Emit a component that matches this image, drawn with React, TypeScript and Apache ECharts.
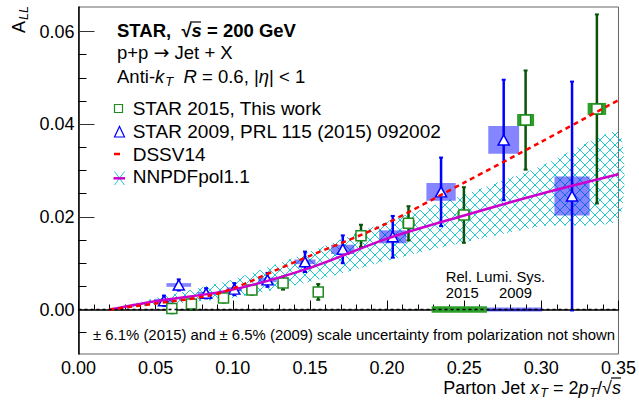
import React, { useEffect, useRef } from 'react';
import * as echarts from 'echarts';

// ---------- data ----------
const xTicks = [0, 0.05, 0.1, 0.15, 0.2, 0.25, 0.3, 0.35];
const yMajorTicks = [0, 0.02, 0.04, 0.06];
const yMinorTicks = [-0.005, 0.005, 0.01, 0.015, 0.025, 0.03, 0.035, 0.045, 0.05, 0.055];

const star2015X = [0.0605, 0.0732, 0.094, 0.1124, 0.1326, 0.1554, 0.1831, 0.2139, 0.2498, 0.2898, 0.336];
const star2015Y = [0.0002, 0.0012, 0.0025, 0.0042, 0.0057, 0.0038, 0.0159, 0.0186, 0.0204, 0.0409, 0.0433];
const star2015Stat = [0.001, 0.0012, 0.001, 0.001, 0.0014, 0.0017, 0.0024, 0.0037, 0.006, 0.0107, 0.0204];
const star2015SysX = [0.0035, 0.0035, 0.0035, 0.0035, 0.0035, 0.0035, 0.004, 0.004, 0.0042, 0.0055, 0.006];
const star2015SysY = [0.0003, 0.0003, 0.0003, 0.0003, 0.0004, 0.0004, 0.0006, 0.0007, 0.0009, 0.0013, 0.0013];

const star2009X = [0.0554, 0.065, 0.0827, 0.101, 0.1225, 0.1468, 0.1713, 0.2037, 0.235, 0.2756, 0.3199];
const star2009Y = [0.0019, 0.0053, 0.0035, 0.0044, 0.0064, 0.0103, 0.013, 0.0157, 0.0254, 0.0366, 0.0245];
const star2009Stat = [0.0011, 0.0012, 0.0011, 0.0013, 0.0015, 0.0022, 0.003, 0.0045, 0.0074, 0.013, 0.0247];
const star2009SysX = [0.0065, 0.008, 0.0055, 0.005, 0.006, 0.0068, 0.0075, 0.0088, 0.0095, 0.01, 0.0114];
const star2009SysY = [0.0004, 0.0004, 0.0003, 0.0004, 0.0005, 0.0005, 0.001, 0.0014, 0.0019, 0.003, 0.0042];

const dssvX = [0.02, 0.05, 0.085, 0.1, 0.128, 0.15, 0.196, 0.25, 0.3, 0.35];
const dssvY = [0, 0.0013, 0.003, 0.0045, 0.0085, 0.0116, 0.018, 0.0274, 0.0362, 0.0452];

const nnpdfX = [0.02, 0.05, 0.1, 0.15, 0.2, 0.25, 0.3, 0.35];
const nnpdfY = [0, 0.0018, 0.0043, 0.009, 0.0153, 0.0203, 0.025, 0.0292];
const nnpdfUpper = [0, 0.0025, 0.0065, 0.0125, 0.019, 0.0248, 0.031, 0.0383];
const nnpdfLower = [0, 0.001, 0.0025, 0.006, 0.0105, 0.0145, 0.018, 0.0193];

const relLumi2015 = [0.2289, 0.2648, 0.00068];
const relLumi2009 = [0.2648, 0.3005, 0.00045];

const F = '"Liberation Sans", Arial, Helvetica, sans-serif';

function makeHatch(): string {
  const c = document.createElement('canvas');
  c.width = 10;
  c.height = 10;
  const ctx = c.getContext('2d')!;
  ctx.strokeStyle = '#22c8d0';
  ctx.lineWidth = 1;
  ctx.beginPath();
  ctx.moveTo(-1, -1);
  ctx.lineTo(11, 11);
  ctx.moveTo(11, -1);
  ctx.lineTo(-1, 11);
  ctx.stroke();
  return c.toDataURL();
}

export default function App() {
  const ref = useRef<HTMLDivElement>(null);
  useEffect(() => {
    if (!ref.current) return;
    const chart = echarts.init(ref.current, null, { renderer: 'svg' });
    const hatch = { image: makeHatch(), repeat: 'repeat', imageWidth: 10, imageHeight: 10 };

    const errRender = (color: string, width: number) => (params: any, api: any) => {
      const x = api.value(0), y = api.value(1), e = api.value(2);
      const t = api.coord([x, y + e]);
      const b = api.coord([x, y - e]);
      return {
        type: 'group',
        children: [
          { type: 'line', shape: { x1: t[0], y1: t[1], x2: b[0], y2: b[1] }, style: { stroke: color, lineWidth: width } },
          { type: 'line', shape: { x1: t[0] - 2, y1: t[1], x2: t[0] + 2, y2: t[1] }, style: { stroke: color, lineWidth: 2 } },
          { type: 'line', shape: { x1: b[0] - 2, y1: b[1], x2: b[0] + 2, y2: b[1] }, style: { stroke: color, lineWidth: 2 } },
        ],
      };
    };
    const boxRender = (fill: string) => (params: any, api: any) => {
      const x = api.value(0), y = api.value(1), sx = api.value(2), sy = api.value(3);
      const p1 = api.coord([x - sx, y + sy]);
      const p2 = api.coord([x + sx, y - sy]);
      return { type: 'rect', shape: { x: p1[0], y: p1[1], width: p2[0] - p1[0], height: p2[1] - p1[1] }, style: { fill } };
    };
    const lumiRender = (fill: string) => (params: any, api: any) => {
      const x0 = api.value(0), x1 = api.value(1), h = api.value(2);
      const p1 = api.coord([x0, h]);
      const p2 = api.coord([x1, -h]);
      return { type: 'rect', shape: { x: p1[0], y: p1[1], width: p2[0] - p1[0], height: p2[1] - p1[1] }, style: { fill } };
    };

    const textStyle = (text: string, x: number, y: number, size: number, extra: any = {}) => ({
      type: 'text',
      x,
      y,
      style: { text, fontSize: size, fontFamily: F, fill: '#000', verticalAlign: 'middle', align: 'left', ...extra },
    });

    const sub = (size: number) => ({ fontSize: size, fontStyle: 'italic', fontFamily: F, padding: [Math.round(size * 0.75), 0, 0, 1] });

    const option: any = {
      animation: false,
      grid: { left: 78.5, top: 7, width: 542.5, height: 347, show: true, borderColor: '#666', borderWidth: 1 },
      xAxis: {
        type: 'value', min: 0, max: 0.35, interval: 0.05,
        axisLine: { lineStyle: { color: '#000', width: 1.5 } },
        axisTick: { inside: true, length: 9, lineStyle: { color: '#000' } },
        minorTick: { show: true, splitNumber: 5, length: 5, lineStyle: { color: '#000' } },
        axisLabel: { formatter: (v: number) => v.toFixed(2), fontSize: 18, color: '#000', fontFamily: F, margin: 5, showMinLabel: true, showMaxLabel: true, customValues: xTicks },
        splitLine: { show: false },
      },
      yAxis: [
        {
          type: 'value', min: -0.0096, max: 0.0653,
          axisLine: { lineStyle: { color: '#000', width: 1.5 } },
          axisTick: { inside: true, length: 16, customValues: yMajorTicks, lineStyle: { color: '#333' } },
          axisLabel: { formatter: (v: number) => v.toFixed(2), fontSize: 18, color: '#000', fontFamily: F, margin: 4, customValues: yMajorTicks },
          splitLine: { show: false },
        },
        {
          type: 'value', min: -0.0096, max: 0.0653, position: 'left',
          axisLine: { show: false },
          axisTick: { inside: true, length: 8, customValues: yMinorTicks, lineStyle: { color: '#000' } },
          axisLabel: { show: false },
          splitLine: { show: false },
        },
        {
          type: 'value', min: -0.0096, max: 0.0653, position: 'left', offset: 59.5,
          axisLine: { show: false }, axisTick: { show: false }, axisLabel: { show: false }, splitLine: { show: false },
          name: '{a|A}{s|LL}', nameLocation: 'end', nameRotate: 90, nameGap: -26,
          nameTextStyle: {
            fontSize: 18, fontFamily: F, color: '#000',
            rich: { a: { fontSize: 18, fontFamily: F, color: '#000' }, s: { ...sub(12.5), color: '#000' } },
          },
        },
      ],
      series: [
        {
          type: 'custom', name: 'band', silent: true,
          data: [[0.1, 0.01]],
          renderItem: (params: any, api: any) => {
            const pts: number[][] = [];
            nnpdfX.forEach((x, i) => pts.push(api.coord([x, nnpdfUpper[i]])));
            for (let i = nnpdfX.length - 1; i >= 0; i--) pts.push(api.coord([nnpdfX[i], nnpdfLower[i]]));
            return { type: 'polygon', shape: { points: pts, smooth: 0.2 }, style: { fill: hatch } };
          },
        },
        {
          type: 'line', name: 'NNPDFpol1.1', data: nnpdfX.map((x, i) => [x, nnpdfY[i]]), smooth: 0.3,
          symbol: 'none', lineStyle: { color: '#cc00cc', width: 2.5 },
        },
        {
          type: 'line', name: 'DSSV14', data: dssvX.map((x, i) => [x, dssvY[i]]), smooth: 0.3,
          symbol: 'none', lineStyle: { color: '#ff0000', width: 2.5, type: [5, 4] },
        },
        {
          type: 'line', name: 'zero', data: [[0, 0], [0.35, 0]], symbol: 'none',
          lineStyle: { color: '#000', width: 1.5, type: [3, 3] },
        },
        { type: 'custom', name: 'lumi2015', z: 3, data: [relLumi2015], renderItem: lumiRender('#2ca02c') },
        { type: 'custom', name: 'lumi2009', z: 3, data: [relLumi2009], renderItem: lumiRender('rgba(0,0,255,0.5)') },
        {
          type: 'custom', name: 'sys2009',
          data: star2009X.map((x, i) => [x, star2009Y[i], star2009SysX[i], star2009SysY[i]]),
          renderItem: boxRender('rgba(0,0,255,0.48)'),
        },
        {
          type: 'custom', name: 'sys2015',
          data: star2015X.map((x, i) => [x, star2015Y[i], star2015SysX[i], star2015SysY[i]]),
          renderItem: boxRender('#2ca02c'),
        },
        {
          type: 'custom', name: 'err2009',
          data: star2009X.map((x, i) => [x, star2009Y[i], star2009Stat[i]]),
          renderItem: errRender('#0000ff', 2.5),
        },
        {
          type: 'custom', name: 'err2015',
          data: star2015X.map((x, i) => [x, star2015Y[i], star2015Stat[i]]),
          renderItem: errRender('#0a520a', 2.5),
        },
        {
          type: 'scatter', name: 'STAR 2009', data: star2009X.map((x, i) => [x, star2009Y[i]]),
          symbol: 'triangle', symbolSize: [11, 10],
          itemStyle: { color: '#fff', borderColor: '#0000ff', borderWidth: 1.5, opacity: 1 },
        },
        {
          type: 'scatter', name: 'STAR 2015', data: star2015X.map((x, i) => [x, star2015Y[i]]),
          symbol: 'rect', symbolSize: 10,
          itemStyle: { color: '#fff', borderColor: '#1f8a1f', borderWidth: 1.5, opacity: 1 },
        },
      ],
      graphic: [
        textStyle('{b|STAR,  √}{bi|s}{b| = 200 GeV}', 117, 30, 18.5, {
          rich: {
            b: { fontSize: 18.5, fontWeight: 'bold', fontFamily: F },
            bi: { fontSize: 18.5, fontWeight: 'bold', fontStyle: 'italic', fontFamily: F },
          },
        }),
        { type: 'line', shape: { x1: 190, y1: 22, x2: 201, y2: 22 }, style: { stroke: '#000', lineWidth: 1.2 } },
        textStyle('{n|p+p }{a|→}{n| Jet + X}', 117, 52, 18.5, {
          rich: {
            n: { fontSize: 18.5, fontFamily: F },
            a: { fontSize: 19, fontFamily: '"DejaVu Sans", sans-serif' },
          },
        }),
        textStyle('{n|Anti-}{i|k}{s|T}{n|  }{i|R}{n| = 0.6, |}{i|η}{n|| < 1}', 117, 76, 18.5, {
          rich: {
            n: { fontSize: 18.5, fontFamily: F },
            i: { fontSize: 18.5, fontStyle: 'italic', fontFamily: F },
            s: sub(13),
          },
        }),
        // legend
        { type: 'rect', shape: { x: 114.5, y: 104.5, width: 8, height: 8 }, style: { fill: '#fff', stroke: '#1f8a1f', lineWidth: 1.2 } },
        textStyle('STAR 2015, This work', 132.7, 108.5, 19),
        { type: 'polygon', shape: { points: [[114.5, 137], [124.5, 137], [119.5, 126.5]] }, style: { fill: '#fff', stroke: '#0000ff', lineWidth: 1.2 } },
        textStyle('STAR 2009, PRL 115 (2015) 092002', 132.7, 131.5, 19),
        { type: 'line', shape: { x1: 114, y1: 154, x2: 120, y2: 154 }, style: { stroke: '#ff0000', lineWidth: 2.5 } },
        textStyle('DSSV14', 132.7, 154, 19),
        { type: 'line', shape: { x1: 114.5, y1: 171.5, x2: 124.5, y2: 185 }, style: { stroke: '#22c8d0', lineWidth: 1 } },
        { type: 'line', shape: { x1: 124.5, y1: 171.5, x2: 114.5, y2: 185 }, style: { stroke: '#22c8d0', lineWidth: 1 } },
        { type: 'line', shape: { x1: 113.5, y1: 178.3, x2: 125, y2: 178.3 }, style: { stroke: '#cc00cc', lineWidth: 2.5 } },
        textStyle('NNPDFpol1.1', 132.7, 176.7, 19),
        // rel lumi
        textStyle('Rel. Lumi. Sys.', 445.7, 276.7, 14.8),
        textStyle('2015', 445.7, 293.3, 14.8),
        textStyle('2009', 499, 293.3, 14.8),
        // footnote
        textStyle('± 6.1% (2015) and ± 6.5% (2009) scale uncertainty from polarization not shown', 93, 335, 14.9),
        // x axis title
        {
          type: 'text', x: 621, y: 388,
          style: {
            text: '{n|Parton Jet }{i|x}{s|T}{n| = 2}{i|p}{s|T}{n|/√}{i|s}',
            fontFamily: F, fontSize: 18, fill: '#000', align: 'right', verticalAlign: 'middle',
            rich: {
              n: { fontSize: 18, fontFamily: F },
              i: { fontSize: 18, fontStyle: 'italic', fontFamily: F },
              s: sub(12.5),
            },
          },
        },
        { type: 'line', shape: { x1: 611, y1: 378, x2: 621, y2: 378 }, style: { stroke: '#000', lineWidth: 1.2 } },
      ],
    };
    chart.setOption(option);
    return () => chart.dispose();
  }, []);
  return <div ref={ref} style={{ position: 'fixed', left: 0, top: 0, width: 639, height: 403, background: '#fff' }} />;
}
